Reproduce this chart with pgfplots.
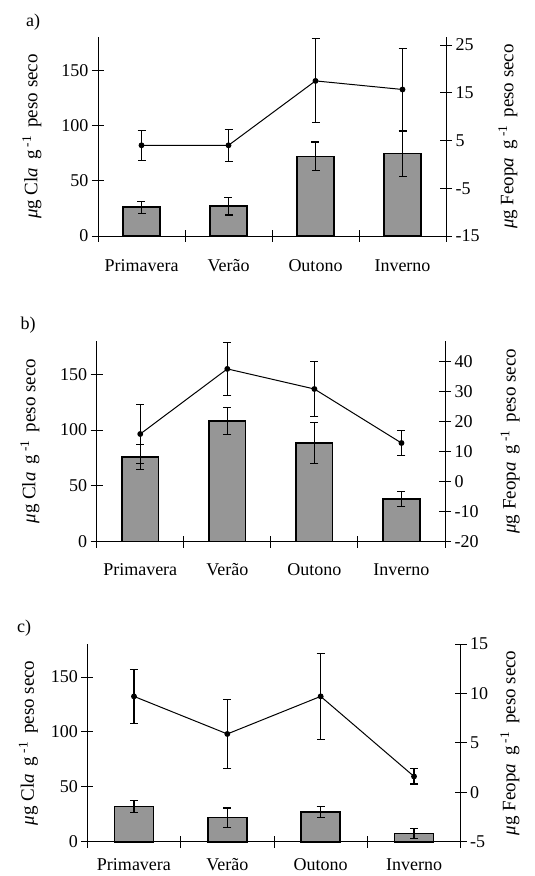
\documentclass[border=0pt]{standalone}
\usepackage{fontspec}
\setmainfont{Liberation Serif}
\usepackage{pgfplots}
\pgfplotsset{compat=1.18}
\definecolor{barfill}{HTML}{969696}
\newcommand{\lab}{\fontsize{18}{18}\selectfont}
\newcommand{\ylab}{\fontsize{19}{19}\selectfont}
\pgfplotsset{
  base/.style={
    scale only axis, anchor=south west, clip=false,
    xmin=0.5, xmax=4.5,
    /pgf/number format/assume math mode=true,
    tick label style={font=\lab},
    label style={font=\ylab},
    major tick length=12pt, minor tick length=12pt, tick align=center,
    tick style={black, line width=0.9pt},
    axis line style={black, line width=0.9pt, -},
    every outer x axis line/.append style={-},
    every outer y axis line/.append style={-},
  },
  leftax/.style={
    base, ymin=0, ymax=180,
    axis x line*=bottom, axis y line*=left,
    xtick={1,2,3,4}, xticklabels={Primavera,Verão,Outono,Inverno},
    major x tick style={draw=none},
    minor xtick={0.5,1.5,2.5,3.5,4.5},
    ytick={0,50,100,150},
    ylabel={{\itshape μ}g Cl{\itshape a}\, g\,\textsuperscript{-1}\, peso seco},
  },
  rightax/.style={
    base, axis x line=none, axis y line*=right,
    ylabel={{\itshape μ}g Feop{\itshape a}\, g\,\textsuperscript{-1}\, peso seco},
  },
  bars/.style={ybar, bar width=0.42, fill=barfill, draw=black, line width=1.6pt,
    error bars/.cd, y dir=both, y explicit,
    error bar style={line width=1.1pt, black},
    error mark options={rotate=90, mark size=4pt, line width=1.1pt, black}},
  lin/.style={black, line width=1pt, mark=*, mark size=2.4pt,
    error bars/.cd, y dir=both, y explicit,
    error bar style={line width=1.1pt, black},
    error mark options={rotate=90, mark size=4pt, line width=1.1pt, black}},
}
\begin{document}
\begin{tikzpicture}[x=1pt,y=1pt]
\useasboundingbox (0,0) rectangle (535,876);
% ---------- a)
\node[font=\lab] at (33,854) {a)};
\begin{axis}[leftax, at={(98pt,640pt)}, width=348pt, height=199pt,
  xticklabel style={yshift=-14pt},
  ylabel style={at={(axis description cs:-0.19,0.5)}, anchor=center}]
\addplot[bars] coordinates {(1,26) +- (0,5.5) (2,27) +- (0,8) (3,72) +- (0,13) (4,74.5) +- (0,20.5)};
\end{axis}
\begin{axis}[rightax, at={(98pt,640pt)}, width=348pt, height=199pt,
  ymin=-15, ymax=26.7, ytick={-15,-5,5,15,25},
  ylabel style={at={(axis description cs:1.178,0.5)}, anchor=center}]
\addplot[lin] coordinates {(1,4) +- (0,3.2) (2,4) +- (0,3.3) (3,17.5) +- (0,8.8) (4,15.7) +- (0,8.5)};
\end{axis}
% ---------- b)
\node[font=\lab] at (28,551) {b)};
\begin{axis}[leftax, at={(96.7pt,334.3pt)}, width=348.3pt, height=201pt,
  xticklabel style={yshift=-12pt},
  ylabel style={at={(axis description cs:-0.192,0.5)}, anchor=center}]
\addplot[bars] coordinates {(1,76) +- (0,11) (2,108) +- (0,12) (3,88.5) +- (0,18.6) (4,38.5) +- (0,6.7)};
\end{axis}
\begin{axis}[rightax, at={(96.7pt,334.3pt)}, width=348.3pt, height=201pt,
  ymin=-20, ymax=47, ytick={-20,-10,...,40},
  ylabel style={at={(axis description cs:1.187,0.5)}, anchor=center}]
\addplot[lin] coordinates {(1,15.9) +- (0,9.8) (2,37.6) +- (0,8.8) (3,30.9) +- (0,9.3) (4,12.9) +- (0,4.2)};
\end{axis}
% ---------- c)
\node[font=\lab] at (24,248) {c)};
\begin{axis}[leftax, at={(87.3pt,34.3pt)}, width=373.4pt, height=197.7pt,
  xticklabel style={yshift=-7pt},
  ylabel style={at={(axis description cs:-0.158,0.5)}, anchor=center}]
\addplot[bars] coordinates {(1,32) +- (0,5.7) (2,22) +- (0,8.7) (3,27) +- (0,5) (4,7.5) +- (0,4.3)};
\end{axis}
\begin{axis}[rightax, at={(87.3pt,34.3pt)}, width=373.4pt, height=197.7pt,
  ymin=-5, ymax=15, ytick={-5,0,...,15},
  ylabel style={at={(axis description cs:1.132,0.5)}, anchor=center}]
\addplot[lin] coordinates {(1,9.7) +- (0,2.7) (2,5.9) +- (0,3.45) (3,9.7) +- (0,4.37) (4,1.6) +- (0,0.76)};
\end{axis}
\end{tikzpicture}
\end{document}
